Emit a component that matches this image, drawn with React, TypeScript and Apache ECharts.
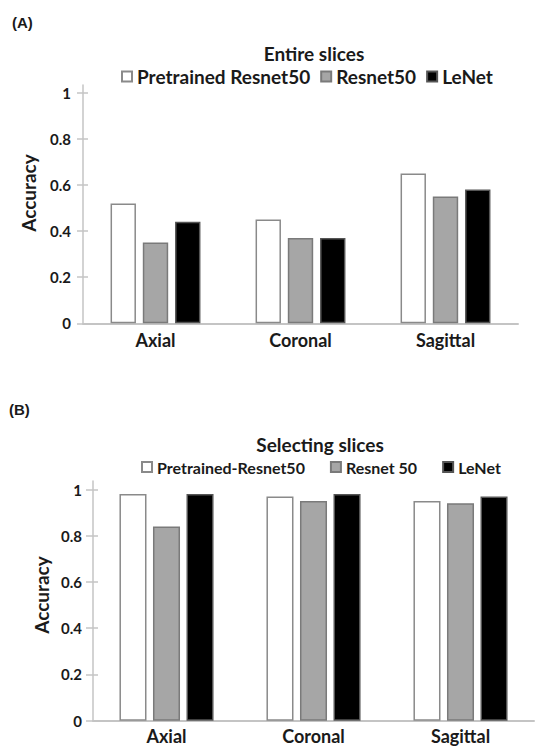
import React, { useEffect, useRef } from "react";
import * as echarts from "echarts";

const categories = ["Axial", "Coronal", "Sagittal"];
const yTicks = [0, 0.2, 0.4, 0.6, 0.8, 1];

const namesA = ["Pretrained Resnet50", "Resnet50", "LeNet"];
const pretrainedA = [0.52, 0.45, 0.65];
const resnetA = [0.35, 0.37, 0.55];
const lenetA = [0.44, 0.37, 0.58];

const namesB = ["Pretrained-Resnet50", "Resnet 50", "LeNet"];
const pretrainedB = [0.98, 0.97, 0.95];
const resnetB = [0.84, 0.95, 0.94];
const lenetB = [0.98, 0.98, 0.97];

const FONT = "Lato";
const TXT = "#1a1a1a";
const AXIS = "#c4c4c4";
const fills = ["#ffffff", "#a6a6a6", "#000000"];
const borders = ["#8a8a8a", "#7a7a7a", "#555555"];

function yAxes(gridIndex: number, max: number, outLen: number, inLen: number, margin: number) {
  return [
    {
      type: "value",
      gridIndex,
      min: 0,
      max,
      position: "left",
      axisLine: { show: true, lineStyle: { color: AXIS, width: 1.5 } },
      axisTick: { show: true, inside: false, length: outLen, customValues: yTicks, lineStyle: { color: AXIS, width: 1.5 } },
      axisLabel: {
        show: true,
        customValues: yTicks,
        margin,
        fontFamily: FONT,
        fontWeight: "bold",
        fontSize: 15,
        color: TXT,
        formatter: (v: number) => String(Math.round(v * 10) / 10),
      },
      splitLine: { show: false },
    },
    {
      type: "value",
      gridIndex,
      min: 0,
      max,
      position: "left",
      axisLine: { show: false },
      axisTick: { show: true, inside: true, length: inLen, customValues: yTicks, lineStyle: { color: AXIS, width: 1.5 } },
      axisLabel: { show: false },
      splitLine: { show: false },
    },
  ];
}

function xAxis(gridIndex: number, margin: number) {
  return {
    type: "category",
    gridIndex,
    data: categories,
    axisLine: { show: true, lineStyle: { color: AXIS, width: 2 } },
    axisTick: { show: false },
    axisLabel: { margin, fontFamily: FONT, fontWeight: "bold", fontSize: 18, color: TXT },
  };
}

function bars(names: string[], data: number[][], xi: number, yi: number, gap: string, catGap: string) {
  return names.map((n, i) => ({
    type: "bar",
    name: n,
    xAxisIndex: xi,
    yAxisIndex: yi,
    data: data[i],
    barGap: gap,
    barCategoryGap: catGap,
    itemStyle: { color: fills[i], borderColor: borders[i], borderWidth: 1.5 },
  }));
}

export default function App() {
  const ref = useRef<HTMLDivElement>(null);
  useEffect(() => {
    if (!ref.current) return;
    const chart = echarts.init(ref.current, null, { renderer: "svg" });
    const topA = 85;
    const bottomA = 323.3;
    const maxA = (bottomA - topA) / 230.6;
    const topB = 481;
    const bottomB = 720.7;
    const maxB = (bottomB - topB) / 231.2;
    chart.setOption({
      animation: false,
      backgroundColor: "#ffffff",
      textStyle: { fontFamily: FONT },
      title: [
        { text: "(A)", left: 12, top: 15, padding: 0, textStyle: { fontFamily: "Liberation Sans", fontWeight: "bold", fontSize: 15, color: TXT } },
        { text: "Entire slices", left: 314, top: 44, padding: 0, textAlign: "center", textStyle: { fontFamily: FONT, fontWeight: "bold", fontSize: 19, color: TXT } },
        { text: "(B)", left: 9, top: 402, padding: 0, textStyle: { fontFamily: "Liberation Sans", fontWeight: "bold", fontSize: 15, color: TXT } },
        { text: "Selecting slices", left: 320, top: 435, padding: 0, textAlign: "center", textStyle: { fontFamily: FONT, fontWeight: "bold", fontSize: 19, color: TXT } },
      ],
      legend: [
        {
          data: namesA,
          left: 121,
          top: 67,
          padding: 0,
          itemWidth: 10,
          itemHeight: 10,
          itemGap: 10,
          icon: "rect",
          textStyle: { fontFamily: FONT, fontWeight: "bold", fontSize: 19, color: TXT },
          selectedMode: false,
        },
        {
          data: namesB,
          left: 141,
          top: 459,
          padding: 0,
          itemWidth: 10,
          itemHeight: 10,
          itemGap: 25,
          icon: "rect",
          textStyle: { fontFamily: FONT, fontWeight: "bold", fontSize: 16, color: TXT },
          selectedMode: false,
        },
      ],
      grid: [
        { left: 83, width: 435, top: topA, height: bottomA - topA, containLabel: false },
        { left: 93, width: 441, top: topB, height: bottomB - topB, containLabel: false },
      ],
      xAxis: [xAxis(0, 8), xAxis(1, 6)],
      yAxis: [...yAxes(0, maxA, 6, 5, 12), ...yAxes(1, maxB, 7, 5, 11)],
      graphic: [
        {
          type: "text",
          x: 28,
          y: 193,
          rotation: Math.PI / 2,
          style: { text: "Accuracy", align: "center", verticalAlign: "middle", fontFamily: FONT, fontWeight: "bold", fontSize: 19, fill: TXT },
        },
        {
          type: "text",
          x: 41,
          y: 595,
          rotation: Math.PI / 2,
          style: { text: "Accuracy", align: "center", verticalAlign: "middle", fontFamily: FONT, fontWeight: "bold", fontSize: 19, fill: TXT },
        },
      ],
      series: [
        ...bars(namesA, [pretrainedA, resnetA, lenetA], 0, 0, "27%", "38%"),
        ...bars(namesB, [pretrainedB, resnetB, lenetB], 1, 2, "24%", "36%"),
      ],
    });
    return () => chart.dispose();
  }, []);
  return <div ref={ref} style={{ position: "fixed", left: 0, top: 0, width: 536, height: 748 }} />;
}
